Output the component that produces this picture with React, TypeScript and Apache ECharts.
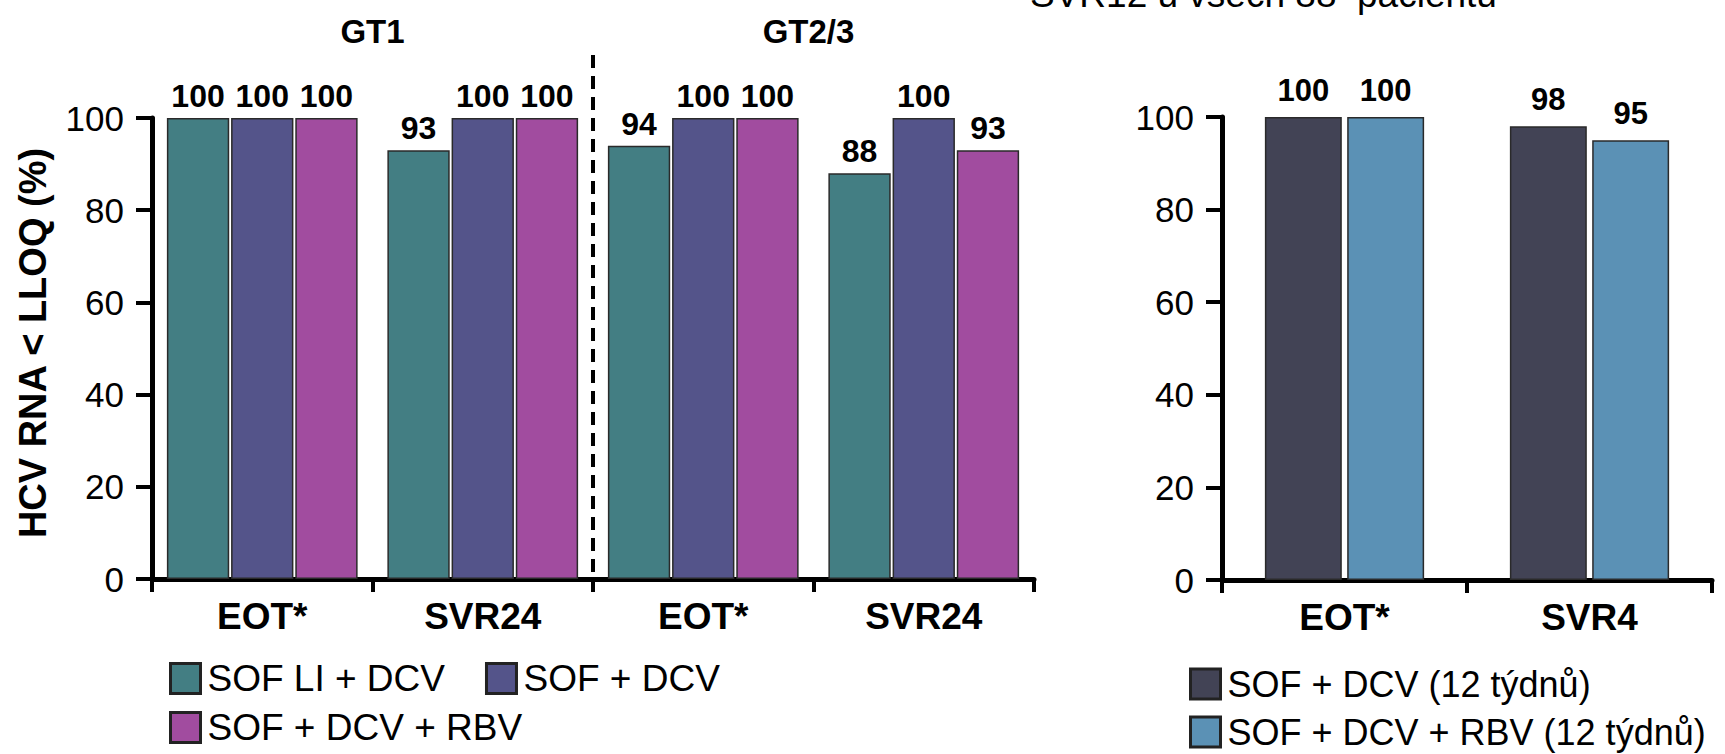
import React, { useEffect, useRef } from "react";
import * as echarts from "echarts";

// Left panel: GT1 and GT2/3 cohorts
const leftCategories = ["EOT*", "SVR24", "EOT*", "SVR24"];
const sofLiDcv = [100, 93, 94, 88];
const sofDcv = [100, 100, 100, 100];
const sofDcvRbv = [100, 100, 100, 93];

// Right panel: 12-week regimens
const rightCategories = ["EOT*", "SVR4"];
const sofDcv12 = [100, 98];
const sofDcvRbv12 = [100, 95];

const yTicks = { min: 0, max: 100, interval: 20 };

const leftNames = ["SOF LI + DCV", "SOF + DCV", "SOF + DCV + RBV"];
const rightNames = ["SOF + DCV (12 týdnů)", "SOF + DCV + RBV (12 týdnů)"];
const groupTitles = ["GT1", "GT2/3"];
const topTitle = "SVR12 u všech 88  pacientů";
const yName = "HCV RNA < LLOQ (%)";

const COLORS = {
  teal: "#437e83",
  purple: "#54548a",
  magenta: "#a14c9f",
  slate: "#424355",
  blue: "#5b91b5",
};

const FONT = "'Liberation Sans', Arial, Helvetica, sans-serif";

const LEFT_GRID = { left: 152, top: 118, width: 882, height: 461 };
const RIGHT_GRID = { left: 1222, top: 117, width: 490, height: 463 };

function xAxisOf(gridIndex: number, data: string[]) {
  return {
    type: "category",
    gridIndex,
    data,
    axisLine: { show: true, lineStyle: { color: "#000", width: 5 } },
    axisTick: { show: true, interval: 0, length: 13, lineStyle: { color: "#000", width: 4 } },
    axisLabel: {
      interval: 0,
      fontSize: 37,
      fontWeight: "bold",
      color: "#000",
      fontFamily: FONT,
      margin: 19,
    },
    splitLine: { show: false },
  };
}

function yAxisOf(gridIndex: number) {
  return {
    type: "value",
    gridIndex,
    min: yTicks.min,
    max: yTicks.max,
    interval: yTicks.interval,
    axisLine: { show: true, lineStyle: { color: "#000", width: 5 } },
    axisTick: { show: true, length: 16, lineStyle: { color: "#000", width: 4 } },
    axisLabel: { fontSize: 35, color: "#000", fontFamily: FONT, margin: 28 },
    splitLine: { show: false },
  };
}

function barSeries(
  name: string,
  data: number[],
  color: string,
  axisIndex: number,
  extra: Record<string, unknown>,
  labelSize: number,
  labelDistance: number
) {
  return {
    name,
    type: "bar",
    xAxisIndex: axisIndex,
    yAxisIndex: axisIndex,
    data,
    itemStyle: { color, borderColor: "#2a2a2a", borderWidth: 1.5 },
    label: {
      show: true,
      position: "top",
      distance: labelDistance,
      fontSize: labelSize,
      fontWeight: "bold",
      color: "#000",
      fontFamily: FONT,
    },
    ...extra,
  };
}

function legendOf(data: string[], left: number, top: number, fontSize: number) {
  return {
    data,
    left,
    top,
    orient: "horizontal",
    icon: "rect",
    itemWidth: 30,
    itemHeight: 30,
    itemGap: 40,
    selectedMode: false,
    itemStyle: { borderColor: "#222", borderWidth: 3 },
    textStyle: { fontSize, color: "#000", fontFamily: FONT, padding: [0, 0, 0, 2] },
  };
}

export default function App() {
  const ref = useRef<HTMLDivElement>(null);

  useEffect(() => {
    if (!ref.current) return;
    const chart = echarts.init(ref.current, null, { renderer: "svg" });

    const leftMid = LEFT_GRID.left + LEFT_GRID.width / 2;
    const leftBottom = LEFT_GRID.top + LEFT_GRID.height;

    const titleStyle = {
      fontSize: 33,
      fontWeight: "bold",
      fontFamily: FONT,
      fill: "#000",
      textAlign: "center",
      textVerticalAlign: "middle",
    };

    const option = {
      animation: false,
      backgroundColor: "#fff",
      textStyle: { fontFamily: FONT },
      grid: [
        { ...LEFT_GRID, containLabel: false },
        { ...RIGHT_GRID, containLabel: false },
      ],
      xAxis: [xAxisOf(0, leftCategories), xAxisOf(1, rightCategories)],
      yAxis: [yAxisOf(0), yAxisOf(1)],
      legend: [
        legendOf([leftNames[0], leftNames[1]], 164, 655, 37),
        legendOf([leftNames[2]], 164, 704, 37),
        legendOf([rightNames[0]], 1184, 661, 36),
        legendOf([rightNames[1]], 1184, 709, 36),
      ],
      series: [
        barSeries(leftNames[0], sofLiDcv, COLORS.teal, 0, { barGap: "3%", barCategoryGap: "13.5%" }, 32, 6),
        barSeries(leftNames[1], sofDcv, COLORS.purple, 0, {}, 32, 6),
        barSeries(leftNames[2], sofDcvRbv, COLORS.magenta, 0, {}, 32, 6),
        barSeries(rightNames[0], sofDcv12, COLORS.slate, 1, { barGap: "7%", barCategoryGap: "35%" }, 31, 11),
        barSeries(rightNames[1], sofDcvRbv12, COLORS.blue, 1, {}, 31, 11),
      ],
      graphic: [
        {
          type: "text",
          x: LEFT_GRID.left + LEFT_GRID.width / 4,
          y: 31,
          style: { ...titleStyle, text: groupTitles[0] },
        },
        {
          type: "text",
          x: LEFT_GRID.left + (LEFT_GRID.width * 3) / 4 - 5,
          y: 31,
          style: { ...titleStyle, text: groupTitles[1] },
        },
        {
          type: "line",
          shape: { x1: leftMid, y1: 55, x2: leftMid, y2: leftBottom },
          style: { stroke: "#000", lineWidth: 4, lineDash: [13, 8] },
          z: 10,
        },
        {
          type: "text",
          x: 33,
          y: 343,
          rotation: Math.PI / 2,
          style: {
            text: yName,
            fontSize: 38,
            fontWeight: "bold",
            fontFamily: FONT,
            fill: "#000",
            textAlign: "center",
            textVerticalAlign: "middle",
          },
        },
        {
          type: "text",
          x: 1030,
          y: -6,
          style: {
            text: topTitle,
            fontSize: 37,
            fontFamily: FONT,
            fill: "#000",
            textAlign: "left",
            textVerticalAlign: "middle",
          },
        },
      ],
    };

    chart.setOption(option as any);
    return () => chart.dispose();
  }, []);

  return (
    <div
      ref={ref}
      style={{ position: "absolute", left: 0, top: 0, width: 1725, height: 754, background: "#fff" }}
    />
  );
}
